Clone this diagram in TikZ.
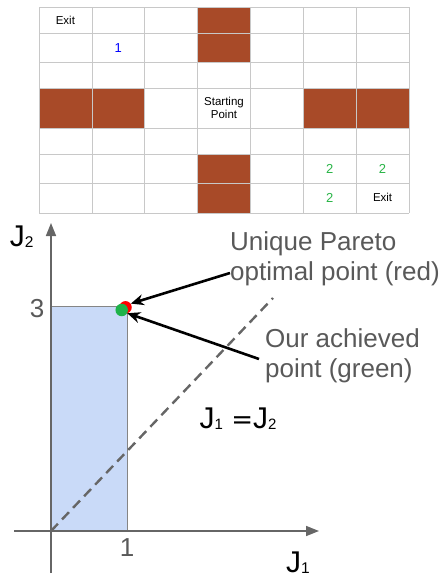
\documentclass[tikz,border=0pt]{standalone}
\usepackage{fontspec}
\setmainfont{Liberation Sans}
\newfontfamily\jfont{DejaVu Sans}
\usetikzlibrary{arrows.meta}
\definecolor{brick}{RGB}{168,74,40}
\definecolor{gridgray}{RGB}{200,200,200}
\definecolor{axisgray}{RGB}{102,102,102}
\definecolor{boxblue}{RGB}{201,218,248}
\definecolor{textgray}{RGB}{89,89,89}
\definecolor{dotgreen}{RGB}{30,178,74}
\definecolor{numgreen}{RGB}{40,180,70}
\newcommand\jsub[2]{\raisebox{-0.8pt}{\fontsize{#1}{#1}\selectfont#2}}

\begin{document}
\begin{tikzpicture}[x=1pt,y=-1pt,
  cell/.style={font=\fontsize{11.5}{13.5}\selectfont,align=center},
  num/.style={font=\fontsize{13}{15}\selectfont},
  big/.style={font=\fontsize{26}{30}\selectfont},
  axlabel/.style={font=\fontsize{30}{32}\selectfont,inner sep=0pt},
  note/.style={big,text=textgray,align=left,inner sep=0pt},
  dot/.style={circle,inner sep=0pt,minimum size=12.5pt},
  pointer/.style={-{Stealth[length=13pt,width=11pt]},line width=2.6pt}]
\useasboundingbox (0,0) rectangle (443,578);

\fill[brick] (197.6,7.3) rectangle (250.4,62.3);
\fill[brick] (39,88.3) rectangle (144.7,128);
\fill[brick] (303.3,88.3) rectangle (409,128);
\fill[brick] (197.6,154) rectangle (250.4,213);
\foreach \x in {39,91.9,144.7,197.6,250.4,303.3,356.1,409}
  \draw[gridgray,line width=0.8pt] (\x,7.3) -- (\x,213);
\foreach \y in {7.3,33,62.3,88.3,128,154,183.3,213}
  \draw[gridgray,line width=0.8pt] (39,\y) -- (409,\y);

\node[cell] (exita) at (65.4,20) {Exit};
\node[num,text=blue] (one) at (118.3,48) {1};
\node[cell] (start) at (224,108) {Starting\\Point};
\node[num,text=numgreen] (twoa) at (329.7,168.7) {2};
\node[num,text=numgreen] (twob) at (382.6,168.7) {2};
\node[num,text=numgreen] (twoc) at (329.7,198) {2};
\node[cell] (exitb) at (382.6,197) {Exit};

\fill[boxblue] (51,306.7) rectangle (127.7,531);
\draw[axisgray!80,line width=1pt] (51,306.7) -- (127.7,306.7) -- (127.7,531);
\draw[axisgray,line width=2.4pt,dash pattern=on 10pt off 6pt] (51,531) -- (273,298);
\draw[axisgray,line width=1.6pt,-{Triangle[length=13pt,width=10pt]}] (51,573) -- (51,223);
\draw[axisgray,line width=1.6pt,-{Triangle[length=13pt,width=10pt]}] (14,531) -- (319,531);

\node[axlabel] (jtwo) at (21.7,236.3) {J\jsub{15.5}{2}};
\node[axlabel] (jone) at (298,563) {J\jsub{15.5}{1}};
\node[axlabel] (diag) at (238,419) {J\jsub{15}{1} {\jfont\fontsize{26}{28}\selectfont=}J\jsub{15}{2}};
\node[big,text=textgray] (three) at (37,309) {3};
\node[big,text=textgray] (unit) at (127,548) {1};

\node[dot,fill=red] (red) at (125.5,307.3) {};
\node[dot,fill=dotgreen] (green) at (121.7,310) {};

\node[note,anchor=base west] (pareto) at (230,280) {Unique Pareto\\optimal point (red)};
\node[note,anchor=base west] (ours) at (265,377.7) {Our achieved\\point (green)};
\coordinate (pstart) at (230,273);
\coordinate (ostart) at (259,359);
\draw[pointer] (pstart) -- (red.35);
\draw[pointer] (ostart) -- (green.-30);
\end{tikzpicture}
\end{document}
